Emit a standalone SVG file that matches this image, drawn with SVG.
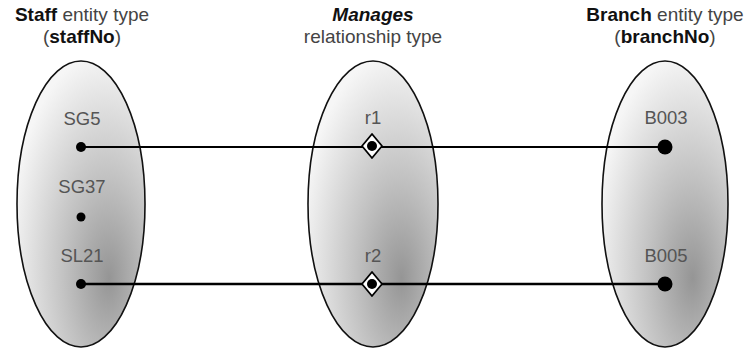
<svg xmlns="http://www.w3.org/2000/svg" width="751" height="352" viewBox="0 0 751 352">
<defs>
<radialGradient id="g" cx="0.68" cy="0.72" r="0.75" fx="0.72" fy="0.76">
<stop offset="0" stop-color="#959595"/>
<stop offset="0.45" stop-color="#c2c2c2"/>
<stop offset="1" stop-color="#f6f6f6"/>
</radialGradient>
</defs>
<style>
.set{fill:url(#g);stroke:#111;stroke-width:1.6}
.hd{font-family:"Liberation Sans",Arial,sans-serif;font-size:19px;fill:#444;text-anchor:middle}
.b{font-weight:bold;fill:#111}
.lb{font-family:"Liberation Sans",Arial,sans-serif;font-size:18.5px;fill:#555;text-anchor:middle}
.ln{stroke:#000;fill:none}
.dot{fill:#000}
.dia{fill:#fff;stroke:#000;stroke-width:1.8;stroke-linejoin:round}
</style>
<g id="staff">
<ellipse class="set" cx="81" cy="204" rx="64" ry="143"/>
<text class="hd" x="82" y="21"><tspan class="b">Staff</tspan> entity type</text>
<text class="hd" x="82" y="43">(<tspan class="b">staffNo</tspan>)</text>
<text class="lb" x="82" y="125">SG5</text>
<text class="lb" x="82" y="193">SG37</text>
<text class="lb" x="82" y="262">SL21</text>
<circle class="dot" cx="81" cy="217" r="4.5"/>
</g>
<g id="manages">
<ellipse class="set" cx="373" cy="204" rx="65" ry="143"/>
<text class="hd" x="373" y="21"><tspan class="b" font-style="italic">Manages</tspan></text>
<text class="hd" x="373" y="43">relationship type</text>
<text class="lb" x="373" y="124">r1</text>
<text class="lb" x="373" y="262">r2</text>
</g>
<g id="branch">
<ellipse class="set" cx="665" cy="204" rx="63" ry="143"/>
<text class="hd" x="665" y="21"><tspan class="b">Branch</tspan> entity type</text>
<text class="hd" x="665" y="43">(<tspan class="b">branchNo</tspan>)</text>
<text class="lb" x="666" y="124">B003</text>
<text class="lb" x="666" y="262">B005</text>
</g>
<g id="connectors">
<line class="ln" x1="81" y1="147" x2="665" y2="147" stroke-width="2"/>
<line class="ln" x1="81" y1="284" x2="665" y2="284" stroke-width="2.6"/>
<circle class="dot" cx="81" cy="147" r="5"/>
<circle class="dot" cx="81" cy="284" r="5"/>
<circle class="dot" cx="665" cy="147" r="7.5"/>
<circle class="dot" cx="665" cy="284" r="7.5"/>
<polygon class="dia" points="372,134 382,146 372,158 362,146"/>
<circle class="dot" cx="372" cy="146" r="5"/>
<polygon class="dia" points="372,272 382,284 372,296 362,284"/>
<circle class="dot" cx="372" cy="284" r="5"/>
</g>
</svg>
